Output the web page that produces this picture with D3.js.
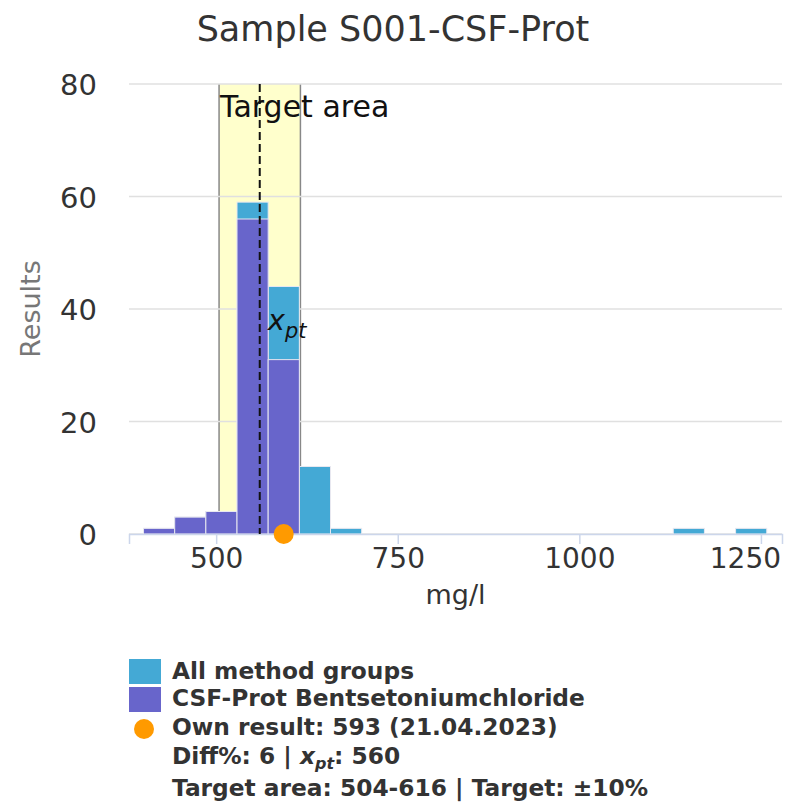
<!DOCTYPE html>
<html>
<head>
<meta charset="utf-8">
<script src="https://cdn.jsdelivr.net/npm/d3@7"></script>
<style>
  body { margin: 0; background: #fff; }
  svg { font-family: "DejaVu Sans", sans-serif; }
</style>
</head>
<body>
<div id="chart"></div>
<script>
// histogram data (20 bins)
const binStart = 400;
const binWidth = 42.9;
const allGroups = [1, 3, 4, 59, 44, 12, 1, 0, 0, 0, 0, 0, 0, 0, 0, 0, 0, 1, 0, 1];
const methodGroup = [1, 3, 4, 56, 31, 0, 0, 0, 0, 0, 0, 0, 0, 0, 0, 0, 0, 0, 0, 0];
const xTicks = [500, 750, 1000, 1250];
const yTicks = [0, 20, 40, 60, 80];
const xpt = 560;
const targetArea = [504, 616];
const ownResult = 593;
const legendLines = ["All method groups", "CSF-Prot Bentsetoniumchloride", "Own result: 593 (21.04.2023)"];

const width = 786, height = 810;
const margin = {top: 84, left: 129, right: 4, bottom: 276};

const svg = d3.select("#chart").append("svg")
    .attr("width", width)
    .attr("height", height);

const x = d3.scaleLinear().domain([380, 1279]).range([margin.left, width - margin.right]);
const y = d3.scaleLinear().domain([0, 80]).range([height - margin.bottom, margin.top]);

// title
svg.append("text")
    .attr("x", width / 2).attr("y", 41)
    .attr("text-anchor", "middle")
    .attr("font-size", 35)
    .attr("fill", "#333")
    .text("Sample S001-CSF-Prot");

// target band
svg.append("rect")
    .attr("x", x(targetArea[0])).attr("y", y(80))
    .attr("width", x(targetArea[1]) - x(targetArea[0]))
    .attr("height", y(0) - y(80))
    .attr("fill", "#ffffcc");
targetArea.forEach(function(v) {
    svg.append("line")
        .attr("x1", x(v)).attr("x2", x(v))
        .attr("y1", y(80)).attr("y2", y(0))
        .attr("stroke", "#888").attr("stroke-width", 1.5);
});

// gridlines
svg.append("g").selectAll("line")
    .data(yTicks)
    .enter().append("line")
    .attr("x1", margin.left).attr("x2", width - margin.right)
    .attr("y1", d => y(d)).attr("y2", d => y(d))
    .attr("stroke", "#e0e0e0").attr("stroke-width", 1.5);

// bars
function drawBars(values, color) {
    const bins = values.map((v, i) => ({x0: binStart + i * binWidth, x1: binStart + (i + 1) * binWidth, v: v}))
        .filter(d => d.v > 0);
    svg.append("g").selectAll("rect")
        .data(bins)
        .enter().append("rect")
        .attr("x", d => x(d.x0))
        .attr("y", d => y(d.v))
        .attr("width", d => x(d.x1) - x(d.x0))
        .attr("height", d => y(0) - y(d.v))
        .attr("fill", color)
        .attr("stroke", "#e8e8f0").attr("stroke-width", 1);
}
drawBars(allGroups, "#44a9d5");
drawBars(methodGroup, "#6865cb");

// x axis
const xAxis = svg.append("g")
    .attr("transform", `translate(0,${y(0)})`)
    .call(d3.axisBottom(x).tickValues(xTicks).tickFormat(d3.format("d")).tickSize(10).tickPadding(4));
xAxis.select(".domain").attr("stroke", "#ccd6eb").attr("stroke-width", 1.5);
xAxis.selectAll(".tick line").attr("stroke", "#ccd6eb").attr("stroke-width", 1.5);
xAxis.selectAll("text").attr("font-size", 28).attr("fill", "#333").attr("font-family", "DejaVu Sans");
// keep the last label inside the plot edge
xAxis.selectAll(".tick text").each(function() {
    const box = this.getBBox();
    const tx = +this.parentNode.getAttribute("transform").match(/translate\(([\d.]+)/)[1];
    const over = tx + box.x + box.width - (width - 5);
    if (over > 0) d3.select(this).attr("x", -over);
});

svg.append("text")
    .attr("x", (margin.left + width - margin.right) / 2).attr("y", 604)
    .attr("text-anchor", "middle")
    .attr("font-size", 27).attr("fill", "#333")
    .text("mg/l");

// y axis labels
svg.append("g").selectAll("text")
    .data(yTicks)
    .enter().append("text")
    .attr("x", 97).attr("y", d => y(d) + 11)
    .attr("text-anchor", "end")
    .attr("font-size", 29).attr("fill", "#333")
    .text(d => d);

svg.append("text")
    .attr("transform", `translate(40,${(y(0) + y(80)) / 2}) rotate(-90)`)
    .attr("text-anchor", "middle")
    .attr("font-size", 27).attr("fill", "#777")
    .text("Results");

// xpt dashed line
svg.append("line")
    .attr("x1", x(xpt)).attr("x2", x(xpt))
    .attr("y1", y(80)).attr("y2", y(0))
    .attr("stroke", "#111").attr("stroke-width", 2)
    .attr("stroke-dasharray", "8,4");

svg.append("text")
    .attr("x", x(targetArea[0]) + 1).attr("y", 117)
    .attr("font-size", 30).attr("fill", "#111")
    .text("Target area");

const xptLabel = svg.append("text")
    .attr("x", x(xpt) + 8).attr("y", 330)
    .attr("font-size", 29).attr("fill", "#111")
    .attr("font-style", "italic");
xptLabel.append("tspan").text("x");
xptLabel.append("tspan").attr("font-size", 21).attr("dy", 8).text("pt");

// own result
svg.append("circle")
    .attr("cx", x(ownResult)).attr("cy", y(0))
    .attr("r", 10)
    .attr("fill", "#ff9a00");

// legend
const legend = svg.append("g").attr("font-weight", "bold").attr("font-size", 23.3).attr("fill", "#333");
legend.append("rect").attr("x", 129).attr("y", 659).attr("width", 32).attr("height", 25).attr("fill", "#44a9d5");
legend.append("rect").attr("x", 129).attr("y", 687).attr("width", 32).attr("height", 25).attr("fill", "#6865cb");
legend.append("circle").attr("cx", 144).attr("cy", 729).attr("r", 10).attr("fill", "#ff9a00");
const rowY = [679, 706, 735];
legendLines.forEach(function(t, i) {
    legend.append("text").attr("x", 172).attr("y", rowY[i]).text(t);
});
const diffLine = legend.append("text").attr("x", 172).attr("y", 764);
diffLine.append("tspan").text("Diff%: 6 | ");
diffLine.append("tspan").attr("font-style", "italic").text("x");
diffLine.append("tspan").attr("font-style", "italic").attr("font-size", 16).attr("dy", 5).text("pt");
diffLine.append("tspan").attr("dy", -5).text(": 560");
legend.append("text").attr("x", 172).attr("y", 796).text("Target area: 504-616 | Target: ±10%");
</script>
</body>
</html>
